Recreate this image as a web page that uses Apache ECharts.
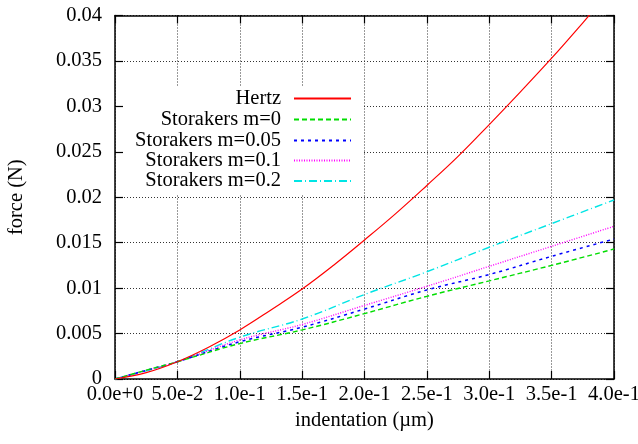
<!DOCTYPE html>
<html>
<head>
<meta charset="utf-8">
<script src="https://cdn.jsdelivr.net/npm/echarts@6/dist/echarts.min.js"></script>
<style>
html,body{margin:0;padding:0;background:#fff;}
#chart{width:638px;height:444px;}
</style>
</head>
<body>
<div id="chart"></div>
<script>
// indentation (µm) and force (N) values
var hertzX = [0, 0.025, 0.05, 0.075, 0.1, 0.125, 0.15, 0.175, 0.2, 0.225, 0.25, 0.275, 0.3, 0.325, 0.35, 0.375, 0.4];
var hertzY = [0, 0.0007, 0.0019, 0.0035, 0.0054, 0.0076, 0.0099, 0.0125, 0.0153, 0.0182, 0.0213, 0.0245, 0.0280, 0.0316, 0.0353, 0.0392, 0.0432];

var storX = [0, 0.025, 0.05, 0.1, 0.15, 0.2, 0.25, 0.3, 0.35, 0.4];
var storM0   = [0, 0.00097, 0.0019, 0.0039, 0.0054, 0.0072, 0.0091, 0.0108, 0.0125, 0.0143];
var storM005 = [0, 0.00095, 0.0019, 0.0041, 0.0057, 0.0077, 0.0098, 0.0115, 0.0135, 0.0154];
var storM01  = [0, 0.00093, 0.0019, 0.0043, 0.0060, 0.0081, 0.0102, 0.0124, 0.0146, 0.0168];
var storM02  = [0, 0.00090, 0.0019, 0.0046, 0.0066, 0.0093, 0.0118, 0.0145, 0.0171, 0.0197];

var seriesNames = ['Hertz', 'Storakers m=0', 'Storakers m=0.05', 'Storakers m=0.1', 'Storakers m=0.2'];
var xAxisTitle = 'indentation (\u00b5m)';
var yAxisTitle = 'force (N)';

function pairs(xs, ys) { return xs.map(function (x, i) { return [x, ys[i]]; }); }

var FONT = '"Liberation Serif", "DejaVu Serif", serif';
var colors = ['#ff0000', '#00dd00', '#0000ff', '#ff00ff', '#00e5e5'];
var widths = [1.2, 1.4, 1.5, 1.4, 1.4];
var dashes = ['solid', [5, 3], [3, 4], [1, 1.5], [8, 3, 1, 3]];
var datasets = [pairs(hertzX, hertzY), pairs(storX, storM0), pairs(storX, storM005), pairs(storX, storM01), pairs(storX, storM02)];

var legendCenters = [98, 119, 140, 160, 180.5];
var legends = seriesNames.map(function (n, i) {
  return {
    data: [n],
    right: 286,
    top: legendCenters[i] - 10,
    orient: 'vertical',
    align: 'right',
    padding: 0,
    itemWidth: 57,
    itemHeight: 14,
    selectedMode: false,
    itemStyle: { opacity: 0, borderWidth: 0 },
    textStyle: { fontFamily: FONT, fontSize: 20.5, color: '#000', lineHeight: 20, padding: [0, 8, 0, 0] }
  };
});

var series = seriesNames.map(function (n, i) {
  return {
    name: n,
    type: 'line',
    data: datasets[i],
    symbol: 'none',
    smooth: 0.4,
    clip: true,
    xAxisIndex: 0,
    yAxisIndex: 0,
    lineStyle: { color: colors[i], width: widths[i], type: dashes[i] },
    itemStyle: { color: colors[i] },
    z: 10 - i
  };
});

var gridLine = { show: true, lineStyle: { color: '#333', width: 1, type: [1, 2] } };
var border = { show: true, onZero: false, lineStyle: { color: '#000', width: 1.5 } };
var tick = { show: true, inside: true, length: 8, lineStyle: { color: '#000', width: 1.2 } };

var chart = echarts.init(document.getElementById('chart'), null, { renderer: 'canvas' });
chart.setOption({
  animation: false,
  backgroundColor: '#fff',
  grid: { left: 115, right: 24, top: 15.5, bottom: 65, containLabel: false, outerBoundsMode: 'none' },
  graphic: [{ type: 'rect', left: 124, top: 87, z: 1, silent: true,
    shape: { width: 239, height: 108 }, style: { fill: '#fff' } }],
  legend: legends,
  xAxis: [{
    type: 'value', min: 0, max: 0.4, interval: 0.05, position: 'bottom',
    name: xAxisTitle, nameLocation: 'middle', nameGap: 11,
    nameTextStyle: { fontFamily: FONT, fontSize: 20.5, color: '#000' },
    axisLine: border, axisTick: tick, splitLine: gridLine,
    axisLabel: { fontFamily: FONT, fontSize: 20.5, color: '#000', margin: 5,
      formatter: function (v) { return v.toExponential(1); } }
  }, {
    type: 'value', min: 0, max: 0.4, interval: 0.05, position: 'top',
    axisLine: border, axisTick: tick, splitLine: { show: false }, axisLabel: { show: false }
  }],
  yAxis: [{
    type: 'value', min: 0, max: 0.04, interval: 0.005, position: 'left',
    name: yAxisTitle, nameLocation: 'middle', nameGap: 88,
    nameTextStyle: { fontFamily: FONT, fontSize: 20.5, color: '#000' },
    axisLine: border, axisTick: tick, splitLine: gridLine,
    axisLabel: { fontFamily: FONT, fontSize: 20.5, color: '#000', margin: 13,
      formatter: function (v) { return String(parseFloat(v.toFixed(4))); } }
  }, {
    type: 'value', min: 0, max: 0.04, interval: 0.005, position: 'right',
    axisLine: border, axisTick: tick, splitLine: { show: false }, axisLabel: { show: false }
  }],
  series: series
});
</script>
</body>
</html>
